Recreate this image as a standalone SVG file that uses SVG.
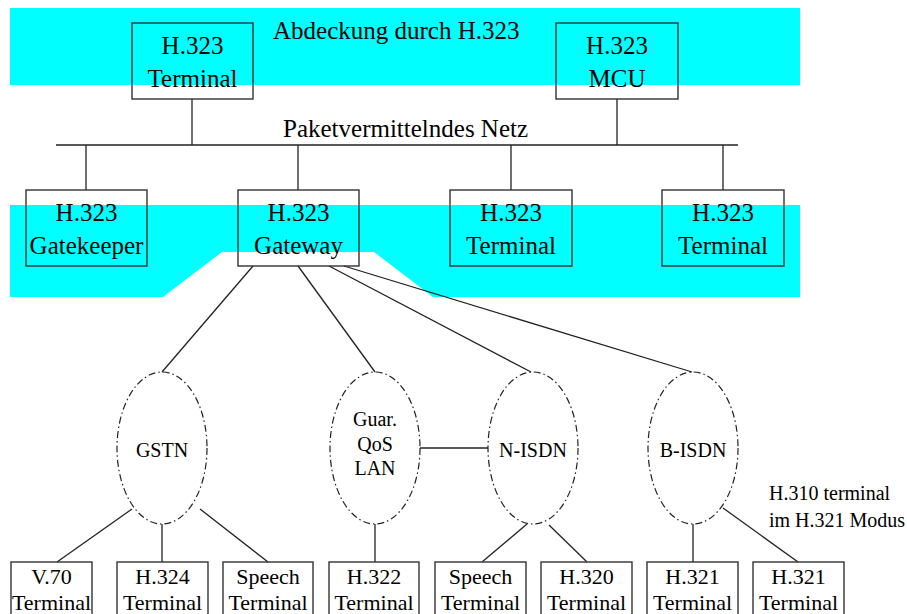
<svg xmlns="http://www.w3.org/2000/svg" width="907" height="614" viewBox="0 0 907 614">
  <style>
    .zone { fill: #00ffff; stroke: none; }
    .box { fill: none; stroke: #333; stroke-width: 1.4; }
    .net { fill: none; stroke: #222; stroke-width: 1.2; stroke-dasharray: 7 3 1.5 3; }
    .link { stroke: #222; stroke-width: 1.3; fill: none; }
    text { font-family: "Liberation Serif", "Times New Roman", serif; fill: #000; text-anchor: middle; }
    .t25 { font-size: 25px; }
    .t22 { font-size: 22px; }
    .t20 { font-size: 20px; }
    .left { text-anchor: start; }
  </style>

  <!-- H.323 coverage areas -->
  <g id="coverage">
    <rect class="zone" x="10" y="8" width="790" height="77"/>
    <path class="zone" d="M10,205 H800 V297 H433 L374,252 H222 L163,297 H10 Z"/>
    <text class="t25 left" x="273" y="39">Abdeckung durch H.323</text>
  </g>

  <!-- connectors -->
  <g id="connectors">
    <line class="link" x1="56" y1="145" x2="738" y2="145"/>
    <line class="link" x1="192" y1="99" x2="192" y2="145"/>
    <line class="link" x1="617" y1="99" x2="617" y2="145"/>
    <line class="link" x1="86" y1="145" x2="86" y2="190"/>
    <line class="link" x1="298" y1="145" x2="298" y2="190"/>
    <line class="link" x1="511" y1="145" x2="511" y2="190"/>
    <line class="link" x1="723" y1="145" x2="723" y2="190"/>
    <!-- gateway to networks -->
    <line class="link" x1="253" y1="266" x2="162" y2="372"/>
    <line class="link" x1="298" y1="266" x2="375" y2="372"/>
    <line class="link" x1="329" y1="266" x2="531" y2="372"/>
    <line class="link" x1="344" y1="266" x2="692" y2="372"/>
    <!-- LAN to N-ISDN -->
    <line class="link" x1="420" y1="448" x2="488" y2="448"/>
    <!-- networks to terminals -->
    <line class="link" x1="132" y1="509" x2="57" y2="562"/>
    <line class="link" x1="162" y1="524" x2="162" y2="562"/>
    <line class="link" x1="200" y1="509" x2="268" y2="562"/>
    <line class="link" x1="375" y1="524" x2="375" y2="562"/>
    <line class="link" x1="527" y1="524" x2="482" y2="562"/>
    <line class="link" x1="549" y1="525" x2="587" y2="562"/>
    <line class="link" x1="693" y1="524" x2="693" y2="562"/>
    <line class="link" x1="723" y1="508" x2="798" y2="562"/>
  </g>

  <text class="t25 left" x="283" y="137">Paketvermittelndes Netz</text>

  <!-- packet network nodes -->
  <g id="terminal-top">
    <rect class="box" x="132" y="23" width="121" height="76"/>
    <text class="t25" x="192.5" y="54">H.323</text>
    <text class="t25" x="192.5" y="87">Terminal</text>
  </g>
  <g id="mcu">
    <rect class="box" x="556" y="23" width="122" height="76"/>
    <text class="t25" x="617" y="54">H.323</text>
    <text class="t25" x="617" y="87">MCU</text>
  </g>
  <g id="gatekeeper">
    <rect class="box" x="26" y="190" width="121" height="76"/>
    <text class="t25" x="86.5" y="221">H.323</text>
    <text class="t25" x="86.5" y="254">Gatekeeper</text>
  </g>
  <g id="gateway">
    <rect class="box" x="238" y="190" width="121" height="76"/>
    <text class="t25" x="298.5" y="221">H.323</text>
    <text class="t25" x="298.5" y="254">Gateway</text>
  </g>
  <g id="terminal-a">
    <rect class="box" x="450" y="190" width="122" height="76"/>
    <text class="t25" x="511" y="221">H.323</text>
    <text class="t25" x="511" y="254">Terminal</text>
  </g>
  <g id="terminal-b">
    <rect class="box" x="662" y="190" width="122" height="76"/>
    <text class="t25" x="723" y="221">H.323</text>
    <text class="t25" x="723" y="254">Terminal</text>
  </g>

  <!-- switched networks -->
  <g id="gstn">
    <ellipse class="net" cx="162" cy="448" rx="45" ry="76"/>
    <text class="t20" x="162" y="457">GSTN</text>
  </g>
  <g id="lan">
    <ellipse class="net" cx="375" cy="448" rx="45" ry="76"/>
    <text class="t20" x="375" y="426">Guar.</text>
    <text class="t20" x="375" y="451">QoS</text>
    <text class="t20" x="375" y="475">LAN</text>
  </g>
  <g id="n-isdn">
    <ellipse class="net" cx="533" cy="448" rx="45" ry="76"/>
    <text class="t20" x="533" y="457">N-ISDN</text>
  </g>
  <g id="b-isdn">
    <ellipse class="net" cx="693" cy="448" rx="45" ry="76"/>
    <text class="t20" x="693" y="457">B-ISDN</text>
  </g>

  <text class="t20 left" x="769" y="500">H.310 terminal</text>
  <text class="t20 left" x="769" y="527">im H.321 Modus</text>

  <!-- terminals on switched networks -->
  <g id="v70">
    <rect class="box" x="11" y="562" width="81" height="60"/>
    <text class="t22" x="51.5" y="584">V.70</text>
    <text class="t22" x="51.5" y="610">Terminal</text>
  </g>
  <g id="h324">
    <rect class="box" x="117" y="562" width="91" height="60"/>
    <text class="t22" x="162.5" y="584">H.324</text>
    <text class="t22" x="162.5" y="610">Terminal</text>
  </g>
  <g id="speech-gstn">
    <rect class="box" x="223" y="562" width="90" height="60"/>
    <text class="t22" x="268" y="584">Speech</text>
    <text class="t22" x="268" y="610">Terminal</text>
  </g>
  <g id="h322">
    <rect class="box" x="329" y="562" width="90" height="60"/>
    <text class="t22" x="374" y="584">H.322</text>
    <text class="t22" x="374" y="610">Terminal</text>
  </g>
  <g id="speech-isdn">
    <rect class="box" x="435" y="562" width="91" height="60"/>
    <text class="t22" x="480.5" y="584">Speech</text>
    <text class="t22" x="480.5" y="610">Terminal</text>
  </g>
  <g id="h320">
    <rect class="box" x="541" y="562" width="91" height="60"/>
    <text class="t22" x="586.5" y="584">H.320</text>
    <text class="t22" x="586.5" y="610">Terminal</text>
  </g>
  <g id="h321-a">
    <rect class="box" x="647" y="562" width="91" height="60"/>
    <text class="t22" x="692.5" y="584">H.321</text>
    <text class="t22" x="692.5" y="610">Terminal</text>
  </g>
  <g id="h321-b">
    <rect class="box" x="753" y="562" width="91" height="60"/>
    <text class="t22" x="798.5" y="584">H.321</text>
    <text class="t22" x="798.5" y="610">Terminal</text>
  </g>
</svg>
